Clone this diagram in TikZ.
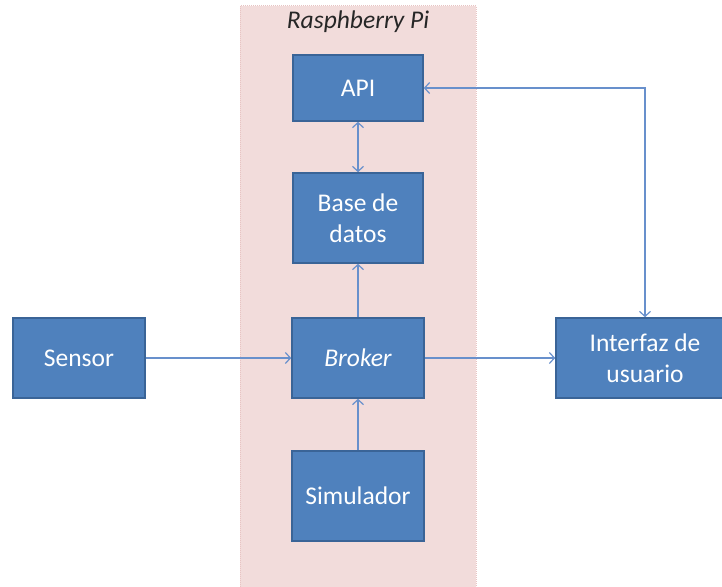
\documentclass[tikz,border=0pt]{standalone}
\usepackage{fontspec}
\setmainfont{Carlito}
\usetikzlibrary{arrows.meta}
\definecolor{boxfill}{HTML}{4F81BD}
\definecolor{boxline}{HTML}{3A6497}
\definecolor{linkblue}{HTML}{6890CC}
\definecolor{zonefill}{HTML}{F2DCDB}
\definecolor{zoneline}{HTML}{E8C4C3}
\tikzset{
  block/.style={draw=boxline, line width=1.6pt, fill=boxfill, text=white,
    font=\fontsize{25.5}{31}\selectfont, align=center, inner sep=0pt},
  link/.style={draw=linkblue, line width=1.4pt,
    -{Straight Barb[length=5pt,width=11pt,line width=1.2pt]}},
  biglink/.style={link, {Straight Barb[length=5pt,width=11pt,line width=1.2pt]}-{Straight Barb[length=5pt,width=11pt,line width=1.2pt]}}
}
\begin{document}
\begin{tikzpicture}[x=1pt,y=-1pt]
  \useasboundingbox (0,0) rectangle (722,586);
  \begin{scope}
    \clip (0,0) rectangle (722,586);
    % Raspberry Pi zone
    \draw[zoneline, fill=zonefill, densely dotted, line width=1pt] (240,6) rectangle (476,590);
    \node[font=\itshape\fontsize{25.5}{30}\selectfont, text=black!85] (zone) at (358,22) {Rasphberry Pi};
    % blocks
    \node[block, minimum width=130pt, minimum height=66pt] (api) at (358,88) {API};
    \node[block, minimum width=130pt, minimum height=90pt] (db) at (358,218) {Base de\\datos};
    \node[block, minimum width=132pt, minimum height=80pt] (broker) at (358,358) {\itshape Broker};
    \node[block, minimum width=132pt, minimum height=90pt] (sim) at (358,496) {Simulador};
    \node[block, minimum width=132pt, minimum height=80pt] (sensor) at (79,358) {Sensor};
    \node[block, minimum width=178pt, minimum height=80pt] (ui) at (645,358) {Interfaz de\\usuario};
    % connections
    \coordinate (corner) at (ui.north |- api.east);
    \draw[biglink] (api.east) -- (corner) -- (ui.north);
    \draw[biglink] (api.south) -- (db.north);
    \draw[link] (broker.north) -- (db.south);
    \draw[link] (sim.north) -- (broker.south);
    \draw[link] (sensor.east) -- (broker.west);
    \draw[link] (broker.east) -- (ui.west);
  \end{scope}
\end{tikzpicture}
\end{document}
